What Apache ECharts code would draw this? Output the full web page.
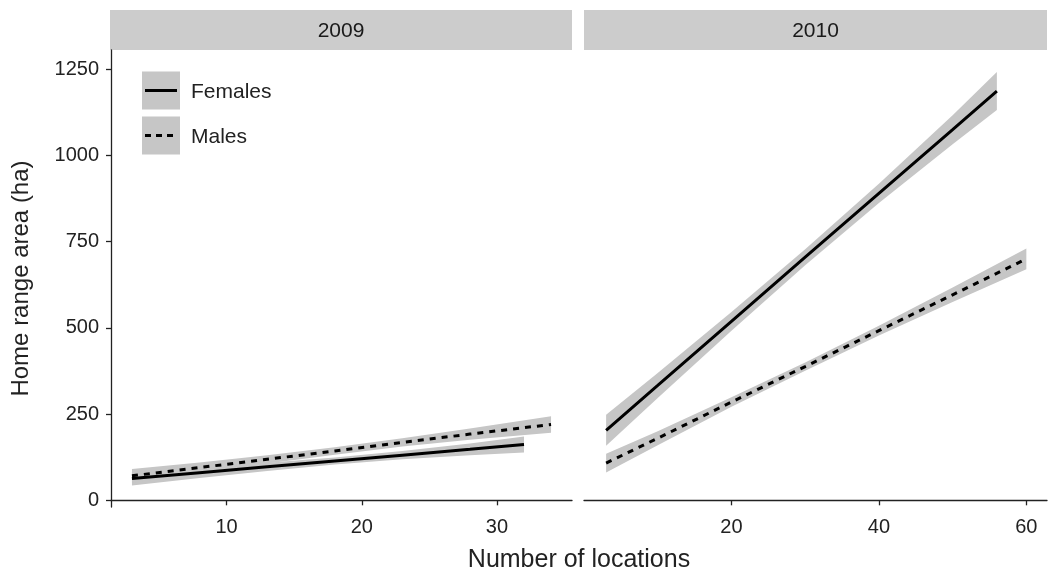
<!DOCTYPE html>
<html>
<head>
<meta charset="utf-8">
<script src="https://cdn.jsdelivr.net/npm/echarts@6/dist/echarts.min.js"></script>
<style>
html,body{margin:0;padding:0;background:#fff;}
#chart{width:1052px;height:573px;}
</style>
</head>
<body>
<div id="chart"></div>
<script>
// ---------- data ----------
const panels = ['2009', '2010'];
const sexes = ['Females', 'Males'];
const yTicks = [0, 250, 500, 750, 1000, 1250];
const xTicks2009 = [10, 20, 30];
const xTicks2010 = [20, 40, 60];

// 2009
const femX09  = [3, 8, 13, 18, 23, 28, 32];
const femY09  = [63, 80, 97, 114, 131, 148, 162];
const femLo09 = [43, 65, 85, 104, 119, 131, 139];
const femHi09 = [82, 95, 109, 124, 143, 165, 185];
const malX09  = [3, 8, 13, 18, 23, 28, 34];
const malY09  = [71, 95, 119, 143, 168, 192, 220];
const malLo09 = [51, 80, 107, 132, 156, 176, 196];
const malHi09 = [91, 110, 131, 154, 180, 208, 244];

// 2010
const femX10  = [3, 10, 20, 30, 40, 50, 56];
const femY10  = [203, 333, 519, 705, 890, 1075, 1187];
const femLo10 = [158, 297, 492, 682, 862, 1033, 1132];
const femHi10 = [248, 369, 546, 728, 918, 1117, 1242];
const malX10  = [3, 10, 20, 30, 40, 50, 60];
const malY10  = [108, 180, 285, 388, 492, 596, 700];
const malLo10 = [81, 160, 271, 376, 478, 575, 670];
const malHi10 = [135, 200, 299, 400, 506, 617, 730];

// ---------- helpers ----------
const FONT = 'Liberation Sans';
const TXT = '#222';
const RIB = '#c6c6c6';

function pairs(xs, ys) { return xs.map((x, i) => [x, ys[i]]); }

function ribbon(xi, xs, lo, hi) {
  return {
    type: 'custom', xAxisIndex: xi, yAxisIndex: xi, silent: true, z: 1,
    data: [[xs[0], lo[0]]],
    renderItem: function (params, api) {
      const pts = [];
      for (let i = 0; i < xs.length; i++) pts.push(api.coord([xs[i], hi[i]]));
      for (let i = xs.length - 1; i >= 0; i--) pts.push(api.coord([xs[i], lo[i]]));
      return { type: 'polygon', shape: { points: pts }, style: { fill: RIB } };
    }
  };
}

function fitLine(name, xi, xs, ys, dashed) {
  return { type: 'line', name: name, xAxisIndex: xi, yAxisIndex: xi, data: pairs(xs, ys),
    symbol: 'none', z: 3,
    lineStyle: { color: '#000', width: 3, type: dashed ? [6, 6] : 'solid' } };
}

const axisLineStyle = { show: true, lineStyle: { color: '#222', width: 1.3 } };
const tickStyle = { show: true, length: 5, lineStyle: { color: '#222', width: 1.3 } };
const plainFmt = v => String(v);

const chart = echarts.init(document.getElementById('chart'));
chart.setOption({
  animation: false,
  backgroundColor: '#fff',
  grid: [
    { left: 111, top: 50, width: 461, height: 457 },
    { left: 584, top: 50, width: 463, height: 457 }
  ],
  xAxis: [
    { type: 'value', gridIndex: 0, min: 1.45, max: 35.55, splitLine: { show: false },
      axisLine: axisLineStyle, axisTick: Object.assign({ customValues: xTicks2009 }, tickStyle),
      axisLabel: { customValues: xTicks2009, formatter: plainFmt, fontSize: 20, color: TXT, fontFamily: FONT, margin: 10 } },
    { type: 'value', gridIndex: 1, min: 0, max: 62.8, splitLine: { show: false },
      axisLine: axisLineStyle, axisTick: Object.assign({ customValues: xTicks2010 }, tickStyle),
      axisLabel: { customValues: xTicks2010, formatter: plainFmt, fontSize: 20, color: TXT, fontFamily: FONT, margin: 10 } }
  ],
  yAxis: [
    { type: 'value', gridIndex: 0, min: -19.4, max: 1306, splitLine: { show: false },
      axisLine: axisLineStyle, axisTick: Object.assign({ customValues: yTicks }, tickStyle),
      axisLabel: { customValues: yTicks, formatter: plainFmt, fontSize: 20, color: TXT, fontFamily: FONT, margin: 12 },
      name: 'Home range area (ha)', nameLocation: 'middle', nameGap: 78,
      nameTextStyle: { fontSize: 24, color: TXT, fontFamily: FONT } },
    { type: 'value', gridIndex: 1, min: -19.4, max: 1306, show: false, splitLine: { show: false } }
  ],
  series: [
    ribbon(0, femX09, femLo09, femHi09),
    ribbon(0, malX09, malLo09, malHi09),
    ribbon(1, femX10, femLo10, femHi10),
    ribbon(1, malX10, malLo10, malHi10),
    fitLine(sexes[0], 0, femX09, femY09, false),
    fitLine(sexes[1], 0, malX09, malY09, true),
    fitLine(sexes[0], 1, femX10, femY10, false),
    fitLine(sexes[1], 1, malX10, malY10, true)
  ],
  graphic: [
    // facet strips
    { type: 'rect', shape: { x: 110, y: 10, width: 462, height: 40 }, style: { fill: '#cccccc' }, silent: true },
    { type: 'rect', shape: { x: 584, y: 10, width: 463, height: 40 }, style: { fill: '#cccccc' }, silent: true },
    { type: 'text', x: 341, y: 31, style: { text: panels[0], fontSize: 21, fill: '#1a1a1a', fontFamily: FONT, align: 'center', verticalAlign: 'middle' } },
    { type: 'text', x: 815.5, y: 31, style: { text: panels[1], fontSize: 21, fill: '#1a1a1a', fontFamily: FONT, align: 'center', verticalAlign: 'middle' } },
    // legend
    { type: 'rect', shape: { x: 142, y: 71.5, width: 38, height: 38 }, style: { fill: '#c6c6c6' }, silent: true },
    { type: 'rect', shape: { x: 142, y: 116.5, width: 38, height: 38 }, style: { fill: '#c6c6c6' }, silent: true },
    { type: 'line', shape: { x1: 145, y1: 90.5, x2: 177, y2: 90.5 }, style: { stroke: '#000', lineWidth: 3 }, silent: true },
    { type: 'line', shape: { x1: 145, y1: 135.5, x2: 177, y2: 135.5 }, style: { stroke: '#000', lineWidth: 3, lineDash: [6, 5] }, silent: true },
    { type: 'text', x: 191, y: 92, style: { text: sexes[0], fontSize: 21, fill: TXT, fontFamily: FONT, align: 'left', verticalAlign: 'middle' } },
    { type: 'text', x: 191, y: 137, style: { text: sexes[1], fontSize: 21, fill: TXT, fontFamily: FONT, align: 'left', verticalAlign: 'middle' } },
    // shared x-axis title
    { type: 'text', x: 579, y: 560, style: { text: 'Number of locations', fontSize: 25, fill: TXT, fontFamily: FONT, align: 'center', verticalAlign: 'middle' } }
  ]
});
</script>
</body>
</html>
